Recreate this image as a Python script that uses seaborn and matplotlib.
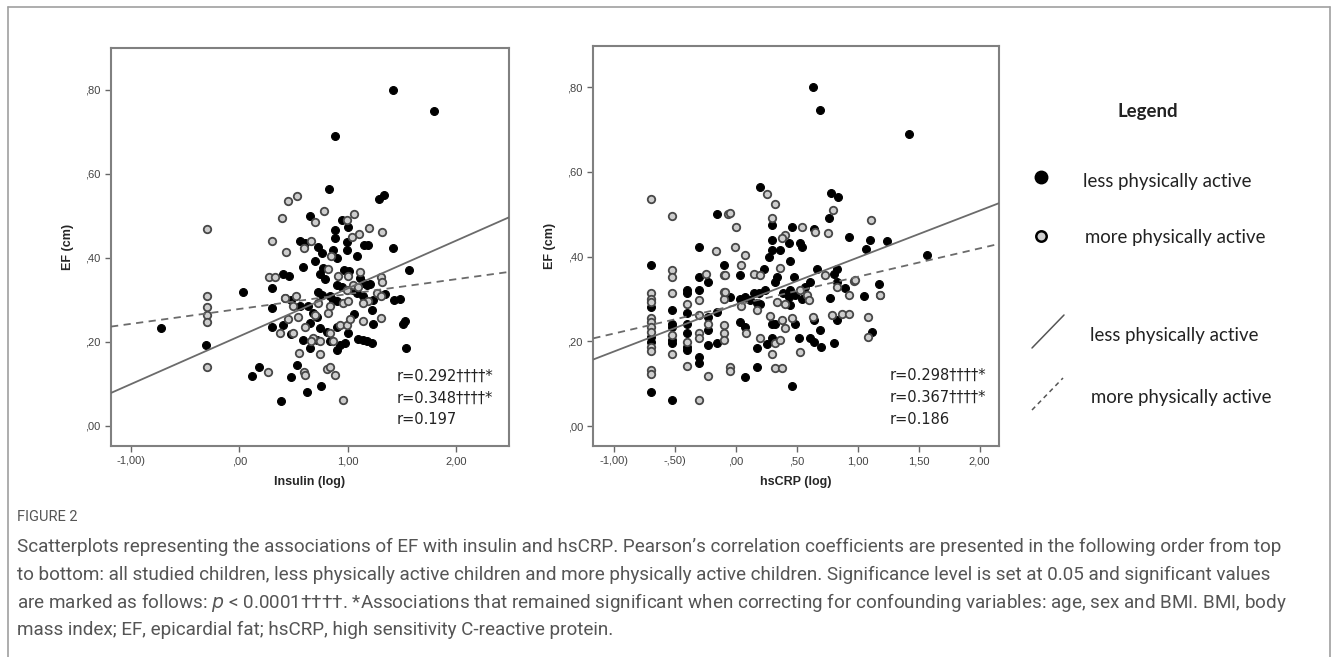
import pandas as pd
import seaborn as sns
import matplotlib.pyplot as plt
from matplotlib.lines import Line2D

# ---- data (x = log value, y = EF in cm) ----
ins_less = [(1.415, 0.800), (1.80, 0.748), (0.88, 0.690), (0.831, 0.563), (1.338, 0.549),
            (1.286, 0.540), (0.655, 0.500), (0.945, 0.490), (1.006, 0.472), (0.88, 0.466),
            (0.883, 0.446), (0.557, 0.440), (0.603, 0.436), (0.729, 0.426), (0.994, 0.438),
            (0.991, 0.419), (1.154, 0.430), (1.185, 0.429), (1.422, 0.423), (0.868, 0.419),
            (0.76, 0.411), (0.905, 0.399), (1.086, 0.403), (0.702, 0.391), (0.588, 0.379),
            (0.769, 0.375), (0.969, 0.371), (1.015, 0.369), (1.566, 0.370), (0.40, 0.361),
            (0.462, 0.357), (0.742, 0.361), (0.791, 0.350), (1.114, 0.351), (1.145, 0.339),
            (1.175, 0.335), (1.206, 0.338), (0.037, 0.319), (0.305, 0.327), (0.905, 0.334),
            (0.945, 0.331), (0.729, 0.319), (0.76, 0.312), (0.837, 0.308), (1.052, 0.323),
            (1.083, 0.316), (1.145, 0.308), (1.345, 0.313), (0.422, 0.305), (0.477, 0.300),
            (0.868, 0.300), (0.898, 0.296), (1.237, 0.300), (1.431, 0.300), (1.483, 0.301),
            (0.56, 0.284), (0.637, 0.286), (0.305, 0.280), (0.683, 0.268), (0.714, 0.260),
            (1.058, 0.265), (1.222, 0.276), (0.406, 0.240), (0.305, 0.236), (0.652, 0.244),
            (0.745, 0.232), (0.806, 0.224), (0.898, 0.236), (1.237, 0.243), (1.508, 0.243),
            (1.529, 0.250), (0.474, 0.219), (1.006, 0.220), (0.585, 0.205), (0.714, 0.205),
            (0.837, 0.201), (0.929, 0.193), (0.975, 0.197), (1.098, 0.207), (1.145, 0.205),
            (1.175, 0.201), (1.222, 0.197), (-0.308, 0.193), (0.652, 0.185), (0.898, 0.181),
            (1.538, 0.185), (0.529, 0.145), (0.185, 0.139), (0.114, 0.119), (0.474, 0.116),
            (-0.723, 0.232), (0.628, 0.080), (0.757, 0.094), (0.385, 0.059)]

ins_more = [(-0.302, 0.469), (0.529, 0.547), (0.446, 0.536), (0.391, 0.494), (0.782, 0.510),
            (0.698, 0.486), (0.991, 0.490), (1.055, 0.504), (1.194, 0.470), (1.317, 0.460),
            (1.108, 0.457), (1.043, 0.450), (0.298, 0.440), (0.662, 0.440), (0.60, 0.423),
            (0.431, 0.413), (0.849, 0.403), (0.818, 0.373), (0.277, 0.355), (0.329, 0.354),
            (0.911, 0.357), (1.006, 0.357), (1.114, 0.367), (1.308, 0.355), (1.314, 0.342),
            (-0.302, 0.309), (-0.302, 0.282), (-0.302, 0.264), (-0.302, 0.248), (0.422, 0.303),
            (0.523, 0.309), (0.492, 0.286), (0.729, 0.292), (0.837, 0.284), (0.815, 0.268),
            (0.96, 0.292), (1.006, 0.297), (1.191, 0.297), (1.145, 0.292), (1.268, 0.316),
            (1.308, 0.310), (0.991, 0.323), (1.052, 0.335), (1.098, 0.331), (0.452, 0.254),
            (0.545, 0.258), (0.375, 0.220), (0.498, 0.220), (0.698, 0.264), (1.145, 0.250),
            (0.929, 0.240), (0.991, 0.240), (1.022, 0.254), (1.308, 0.256), (0.606, 0.235),
            (0.683, 0.208), (0.745, 0.201), (0.662, 0.202), (0.868, 0.202), (0.837, 0.220),
            (0.554, 0.174), (0.745, 0.170), (0.597, 0.129), (0.606, 0.120), (0.806, 0.136),
            (0.837, 0.140), (0.883, 0.120), (0.268, 0.129), (-0.302, 0.139), (0.957, 0.062)]

crp_less = [(-0.70, 0.380), (-0.70, 0.280), (-0.70, 0.211), (-0.70, 0.199), (-0.70, 0.081),
            (-0.524, 0.274), (-0.524, 0.242), (-0.524, 0.234), (-0.524, 0.203), (-0.524, 0.195),
            (-0.524, 0.061), (-0.405, 0.321), (-0.405, 0.313), (-0.405, 0.266), (-0.405, 0.242),
            (-0.405, 0.219), (-0.405, 0.187), (-0.405, 0.179), (-0.303, 0.423), (-0.303, 0.352),
            (-0.303, 0.321), (-0.303, 0.164), (-0.303, 0.149), (-0.23, 0.340), (-0.23, 0.258),
            (-0.23, 0.226), (-0.23, 0.191), (-0.16, 0.500), (-0.16, 0.269), (-0.16, 0.195),
            (-0.103, 0.380), (0.198, 0.565), (0.294, 0.474), (0.459, 0.470), (0.637, 0.466),
            (0.782, 0.551), (0.837, 0.540), (0.766, 0.490), (0.925, 0.447), (0.294, 0.439),
            (0.431, 0.431), (0.527, 0.431), (0.541, 0.423), (0.294, 0.415), (0.363, 0.415),
            (0.273, 0.400), (0.445, 0.390), (0.226, 0.370), (0.034, 0.356), (0.335, 0.352),
            (0.321, 0.341), (0.472, 0.351), (0.664, 0.370), (0.801, 0.360), (0.829, 0.370),
            (0.829, 0.341), (0.609, 0.341), (0.897, 0.327), (0.239, 0.321), (0.184, 0.315),
            (0.143, 0.313), (0.382, 0.313), (0.445, 0.321), (0.431, 0.305), (0.486, 0.309),
            (0.541, 0.301), (0.568, 0.329), (-0.048, 0.305), (0.034, 0.301), (0.075, 0.305),
            (0.116, 0.297), (0.171, 0.291), (0.198, 0.289), (0.774, 0.303), (0.445, 0.286),
            (0.294, 0.242), (0.321, 0.241), (0.486, 0.241), (0.637, 0.250), (0.829, 0.250),
            (0.034, 0.246), (0.075, 0.234), (0.692, 0.226), (0.513, 0.207), (0.294, 0.207),
            (0.253, 0.194), (0.609, 0.207), (0.637, 0.199), (0.697, 0.187), (0.807, 0.196),
            (0.171, 0.185), (0.171, 0.140), (0.075, 0.116), (0.459, 0.094), (0.634, 0.800),
            (0.69, 0.747), (1.416, 0.689), (1.10, 0.439), (1.24, 0.437), (1.07, 0.417),
            (1.569, 0.403), (1.177, 0.336), (1.18, 0.310), (1.048, 0.307), (1.12, 0.222)]

crp_more = [(-0.70, 0.537), (-0.70, 0.313), (-0.70, 0.301), (-0.70, 0.293), (-0.70, 0.254),
            (-0.70, 0.246), (-0.70, 0.234), (-0.70, 0.222), (-0.70, 0.187), (-0.70, 0.178),
            (-0.70, 0.132), (-0.70, 0.123), (-0.524, 0.495), (-0.524, 0.368), (-0.524, 0.352),
            (-0.524, 0.313), (-0.524, 0.215), (-0.524, 0.171), (-0.405, 0.288), (-0.405, 0.199),
            (-0.405, 0.142), (-0.303, 0.297), (-0.303, 0.262), (-0.303, 0.219), (-0.303, 0.207),
            (-0.303, 0.061), (-0.248, 0.360), (-0.23, 0.242), (-0.23, 0.117), (-0.164, 0.414),
            (-0.103, 0.356), (-0.103, 0.317), (-0.103, 0.301), (-0.103, 0.238), (-0.103, 0.219),
            (-0.103, 0.203), (-0.07, 0.500), (0.253, 0.548), (0.316, 0.525), (-0.049, 0.503),
            (0.294, 0.490), (-0.002, 0.470), (0.541, 0.470), (0.651, 0.458), (0.793, 0.511),
            (0.752, 0.456), (0.398, 0.450), (0.376, 0.443), (-0.007, 0.423), (0.075, 0.403),
            (0.039, 0.380), (0.357, 0.374), (-0.09, 0.356), (0.143, 0.358), (0.198, 0.356),
            (0.733, 0.356), (0.829, 0.329), (0.966, 0.343), (0.527, 0.321), (0.582, 0.309),
            (-0.09, 0.317), (0.596, 0.297), (0.930, 0.309), (0.042, 0.283), (0.335, 0.293),
            (0.398, 0.289), (0.171, 0.274), (0.275, 0.259), (0.376, 0.251), (0.459, 0.254),
            (0.629, 0.258), (0.788, 0.262), (0.870, 0.264), (0.925, 0.264), (0.398, 0.232),
            (0.080, 0.220), (0.198, 0.207), (0.321, 0.197), (0.357, 0.203), (0.294, 0.171),
            (0.527, 0.174), (-0.048, 0.140), (-0.048, 0.130), (0.321, 0.136), (0.376, 0.136),
            (1.111, 0.486), (0.98, 0.344), (1.18, 0.310), (1.08, 0.257), (1.08, 0.210)]

# fit lines (intercept, slope) as drawn in the figure
ins_fit_less = (0.213, 0.1137)
ins_fit_more = (0.278, 0.0354)
crp_fit_less = (0.287, 0.1107)
crp_fit_more = (0.2855, 0.0669)

ins_r = ["r=0.292††††*", "r=0.348††††*", "r=0.197"]
crp_r = ["r=0.298††††*", "r=0.367††††*", "r=0.186"]

y_ticks = [0.0, 0.2, 0.4, 0.6, 0.8]
y_labels = [",00", ",20", ",40", ",60", ",80"]
ins_xticks = [-1.0, 0.0, 1.0, 2.0]
ins_xlabels = ["-1,00)", ",00", "1,00", "2,00"]
crp_xticks = [-1.0, -0.5, 0.0, 0.5, 1.0, 1.5, 2.0]
crp_xlabels = ["-1,00)", "-,50)", ",00", ",50", "1,00", "1,50", "2,00"]

caption = [
    "Scatterplots representing the associations of EF with insulin and hsCRP. Pearson\u2019s correlation coefficients are presented in the following order from top",
    "to bottom: all studied children, less physically active children and more physically active children. Significance level is set at 0.05 and significant values",
    "are marked as follows: $\\it{p}$ < 0.0001††††. *Associations that remained significant when correcting for confounding variables: age, sex and BMI. BMI, body",
    "mass index; EF, epicardial fat; hsCRP, high sensitivity C-reactive protein.",
]

sns.set_style("white")
plt.rcParams["font.family"] = ["Liberation Sans", "DejaVu Sans"]

LESS = dict(color="black", edgecolor="black", linewidth=0.8, s=32)
MORE = dict(color="#cdcdcd", edgecolor="#474747", linewidth=1.3, s=29)
FRAME = "#808080"


def to_df(points):
    return pd.DataFrame(points, columns=["x", "y"])


def draw_panel(ax, less, more, fit_less, fit_more, xlim, ylim, xticks, xlabels, xlabel, rtxt, rx):
    sns.scatterplot(data=to_df(less), x="x", y="y", ax=ax, zorder=3, **LESS)
    sns.scatterplot(data=to_df(more), x="x", y="y", ax=ax, zorder=3, **MORE)
    xs = [xlim[0], xlim[1]]
    ax.plot(xs, [fit_less[0] + fit_less[1] * v for v in xs], color="#6b6b6b", lw=1.3, zorder=4)
    ax.plot(xs, [fit_more[0] + fit_more[1] * v for v in xs], color="#6b6b6b", lw=1.3,
            ls=(0, (4, 3)), zorder=4)
    ax.set_xlim(*xlim)
    ax.set_ylim(*ylim)
    ax.set_xticks(xticks)
    ax.set_xticklabels(xlabels)
    ax.set_yticks(y_ticks)
    ax.set_yticklabels(y_labels)
    ax.tick_params(axis="both", direction="out", length=4, width=1, color="#666666",
                   labelsize=8, labelcolor="#444444", bottom=True, left=True)
    ax.set_xlabel(xlabel, fontsize=9, fontweight="bold", labelpad=7)
    ax.set_ylabel("EF (cm)", fontsize=9, fontweight="bold", labelpad=8)
    for sp in ax.spines.values():
        sp.set_color(FRAME)
        sp.set_linewidth(1.5)
    for i, t in enumerate(rtxt):
        ax.text(rx, 0.176 - i * 0.055, t, transform=ax.transAxes, fontsize=10.5,
                color="#222222", family=["DejaVu Sans"], va="center", ha="left")


fig = plt.figure(figsize=(13.33, 6.57), dpi=100)
ax1 = fig.add_axes([0.0833, 0.3212, 0.2986, 0.6058])
ax2 = fig.add_axes([0.4451, 0.3212, 0.3044, 0.6088])

draw_panel(ax1, ins_less, ins_more, ins_fit_less, ins_fit_more, (-1.185, 2.49), (-0.048, 0.899),
           ins_xticks, ins_xlabels, "Insulin (log)", ins_r, 0.718)
draw_panel(ax2, crp_less, crp_more, crp_fit_less, crp_fit_more, (-1.173, 2.16), (-0.047, 0.897),
           crp_xticks, crp_xlabels, "hsCRP (log)", crp_r, 0.731)

# hand-drawn style legend on the right
W, H = 1333, 657
lfont = dict(fontsize=13.4, color="#222222", family=["Lato", "DejaVu Sans"], va="center")
fig.text(1148 / W, 1 - 112 / H, "Legend", ha="center", fontweight="bold", **lfont)
fig.add_artist(Line2D([1041 / W], [1 - 177 / H], marker="o", ms=9, color="black", mec="black"))
fig.text(1083 / W, 1 - 181 / H, "less physically active", **lfont)
fig.add_artist(Line2D([1041 / W], [1 - 236 / H], marker="o", ms=7.5, color="#cdcdcd",
                      mec="black", mew=1.8))
fig.text(1085 / W, 1 - 238 / H, "more physically active", **lfont)
fig.add_artist(Line2D([1032 / W, 1064 / W], [1 - 348 / H, 1 - 315 / H], color="#555555", lw=1.1))
fig.text(1090 / W, 1 - 335 / H, "less physically active", **lfont)
fig.add_artist(Line2D([1032 / W, 1063 / W], [1 - 410 / H, 1 - 378 / H], color="#555555", lw=1.1,
                      ls=(0, (3, 2.5))))
fig.text(1091 / W, 1 - 397 / H, "more physically active", **lfont)

# outer frame (top, left, right)
fc = "#a0a0a0"
fig.add_artist(Line2D([8 / W, 1330 / W], [1 - 7 / H, 1 - 7 / H], color=fc, lw=1.2))
fig.add_artist(Line2D([8 / W, 8 / W], [0, 1 - 7 / H], color=fc, lw=1.2))
fig.add_artist(Line2D([1330 / W, 1330 / W], [0, 1 - 7 / H], color=fc, lw=1.2))

# caption
cfont = dict(color="#555555", family=["Roboto", "DejaVu Sans"], va="center", ha="left")
fig.text(17 / W, 1 - 517 / H, "FIGURE 2", fontsize=10.5, **cfont)
for i, line in enumerate(caption):
    fig.text(17 / W, 1 - (547 + i * 27.5) / H, line, fontsize=13.6, **cfont)

fig.savefig("out.png", dpi=100)
